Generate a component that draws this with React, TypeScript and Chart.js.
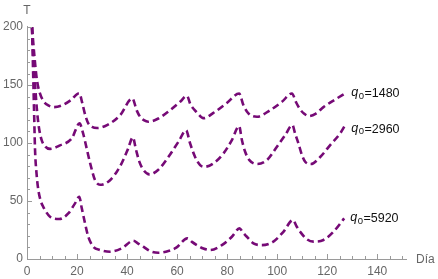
import { useEffect, useRef } from 'react';
import { Chart, registerables } from 'chart.js';

Chart.register(...registerables);

// Series q0 = 1480
const days1 = [2, 3, 4, 5, 6.5, 8.5, 10.8, 14, 17.5, 20.9, 22.1, 23.3, 24.5, 26, 28, 32, 37.2, 42.1, 43.9, 45.2, 46.7, 48.5, 52.5, 57.2, 61.2, 63.9, 65.4, 67.9, 70.5, 74.5, 80, 84.8, 86.5, 88.5, 91.9, 97.2, 101.9, 105.9, 107.6, 109.2, 110.7, 112.6, 115.5, 118.5, 123.2, 127.2];
const temp1 = [200, 174, 154, 144, 136.5, 132.5, 131, 132.5, 137, 143, 134.5, 124, 117, 114, 113, 115.5, 124, 138.5, 128, 122.7, 119.8, 118.4, 121.2, 128.4, 135.6, 140.8, 133, 126.5, 121.5, 126, 134.8, 142.8, 132.8, 125.6, 122.7, 128.4, 135.6, 142.8, 135, 129, 125.5, 123.3, 125.5, 131, 137.6, 142.8];

// Series q0 = 2960
const days2 = [2, 2.6, 3.3, 4, 4.8, 5.8, 7.3, 9.2, 13.2, 17.9, 21, 22.4, 24, 25.2, 27.2, 29.2, 33.2, 37.2, 40.4, 42.3, 43.6, 44.9, 46.5, 48.9, 52.5, 56.5, 60.5, 63.6, 65.2, 67.2, 69.2, 70.8, 74.5, 78.5, 81.9, 84.8, 85.9, 87.2, 88.9, 92.1, 95.9, 99.9, 103.2, 106.1, 107.2, 108.5, 109.9, 111.2, 113.5, 117.2, 121.2, 125.2, 127.2];
const temp2 = [200, 172, 148, 128, 113, 103, 97, 95, 98, 104, 117, 108.6, 94, 83, 68, 64, 68, 80, 95, 105, 94, 84, 77, 73, 77, 88, 101, 111, 99.7, 88, 81, 79.5, 82.5, 91, 102.6, 114.7, 102.6, 92.5, 85.3, 81.9, 85.3, 96.8, 106.9, 115.5, 108, 99.7, 89.7, 83.9, 81.9, 88, 98.3, 108.4, 115.5];

// Series q0 = 5920
const days3 = [2, 2.4, 2.8, 3.2, 3.8, 4.5, 5.5, 6.5, 9.2, 12.9, 16.5, 19.2, 20.9, 21.9, 23.2, 24.5, 26.5, 29.2, 33.2, 37.9, 42.5, 44.3, 46.5, 49.2, 52.5, 55.5, 59.5, 64.1, 65.8, 67.9, 70.5, 73.2, 77.9, 81.9, 84.9, 86.5, 87.9, 90.5, 93.9, 98.5, 102.5, 106.3, 107.8, 109.2, 111.9, 114.5, 118.5, 122.5, 126.8];
const temp3 = [200, 165, 130, 95, 74, 60, 50, 45, 36.5, 34.5, 39.3, 48, 53.7, 43.7, 30.7, 19.2, 10.6, 7.8, 6.3, 9.2, 15.8, 13.5, 10.6, 6.8, 5.4, 6.3, 9.5, 17.8, 15, 12, 9, 7.8, 12, 19.2, 26.4, 22.5, 19.2, 13.5, 12, 15, 23.5, 33.6, 28, 23.5, 17, 15, 16.4, 23.5, 35];

const seriesQ0 = ['1480', '2960', '5920'];
const xTicks = [0, 20, 40, 60, 80, 100, 120, 140];
const yTicks = [0, 50, 100, 150, 200];
const xTitle = 'Día';
const yTitle = 'T';

export default function App() {
  const ref = useRef<HTMLCanvasElement>(null);

  useEffect(() => {
    document.body.style.margin = '0';
    const canvas = ref.current;
    if (!canvas) return;
    const font = '"Liberation Sans", Arial, sans-serif';
    const purple = '#760a76';
    const axisGray = '#9a9a9a';
    const labelGray = '#666666';
    const mk = (d: number[], v: number[]) => d.map((x, i) => ({ x, y: v[i] }));
    const labelOffsets = [0, 4, 0];

    const decor = {
      id: 'decor',
      afterDraw(chart: any) {
        const { ctx, chartArea: a, scales } = chart;
        const xs = scales.x;
        const ys = scales.y;
        ctx.save();
        ctx.strokeStyle = axisGray;
        ctx.lineWidth = 1;
        ctx.beginPath();
        for (let v = 0; v <= 150; v += 5) {
          const px = Math.round(xs.getPixelForValue(v)) + 0.5;
          const len = v % 20 === 0 ? 5 : 3;
          ctx.moveTo(px, a.bottom);
          ctx.lineTo(px, a.bottom - len);
        }
        for (let v = 0; v <= 200; v += 10) {
          const py = Math.round(ys.getPixelForValue(v)) + 0.5;
          const len = v % 50 === 0 ? 5 : 3;
          ctx.moveTo(a.left, py);
          ctx.lineTo(a.left + len, py);
        }
        ctx.stroke();

        // axis titles
        ctx.fillStyle = labelGray;
        ctx.font = `12px ${font}`;
        ctx.textBaseline = 'middle';
        ctx.textAlign = 'left';
        ctx.fillText(xTitle, a.right + 10, a.bottom + 1);
        ctx.textAlign = 'center';
        ctx.fillText(yTitle, a.left, 11);

        // series labels
        ctx.fillStyle = '#111111';
        ctx.textAlign = 'left';
        chart.data.datasets.forEach((_ds: any, i: number) => {
          const meta = chart.getDatasetMeta(i);
          const pt = meta.data[meta.data.length - 1];
          let x = pt.x + 6;
          const y = pt.y + labelOffsets[i];
          ctx.font = `italic 12.5px ${font}`;
          ctx.textBaseline = 'middle';
          ctx.fillText('q', x, y - 1);
          x += ctx.measureText('q').width + 0.5;
          ctx.font = `9.5px ${font}`;
          ctx.fillText('0', x, y + 2.5);
          x += ctx.measureText('0').width + 0.5;
          ctx.font = `12.5px ${font}`;
          ctx.fillText('=' + seriesQ0[i], x, y);
        });
        ctx.restore();
      },
    };

    const dsStyle = {
      borderColor: purple,
      backgroundColor: purple,
      borderWidth: 2.6,
      borderDash: [7, 4],
      pointRadius: 0,
      fill: false,
      cubicInterpolationMode: 'monotone' as const,
    };

    const chart = new Chart(canvas, {
      type: 'line',
      data: {
        datasets: [
          { ...dsStyle, label: 'q0=' + seriesQ0[0], data: mk(days1, temp1) },
          { ...dsStyle, label: 'q0=' + seriesQ0[1], data: mk(days2, temp2) },
          { ...dsStyle, label: 'q0=' + seriesQ0[2], data: mk(days3, temp3) },
        ],
      },
      options: {
        animation: false,
        responsive: false,
        layout: { padding: { top: 26, right: 32, left: 0, bottom: 0 } },
        plugins: { legend: { display: false }, tooltip: { enabled: false } },
        scales: {
          x: {
            type: 'linear',
            min: 0,
            max: 151.5,
            grid: { display: false, drawTicks: false },
            border: { display: true, color: axisGray, width: 1 },
            ticks: { color: labelGray, font: { family: font, size: 12 }, padding: 5, maxRotation: 0 },
            afterBuildTicks: (s: any) => {
              s.ticks = xTicks.map((v) => ({ value: v }));
            },
            afterFit: (s: any) => {
              s.height = 20;
            },
          },
          y: {
            type: 'linear',
            min: 0,
            max: 201,
            grid: { display: false, drawTicks: false },
            border: { display: true, color: axisGray, width: 1 },
            ticks: { color: labelGray, font: { family: font, size: 12 }, padding: 4 },
            afterBuildTicks: (s: any) => {
              s.ticks = yTicks.map((v) => ({ value: v }));
            },
            afterFit: (s: any) => {
              s.width = 27;
            },
          },
        },
      },
      plugins: [decor],
    });

    return () => chart.destroy();
  }, []);

  return <canvas ref={ref} width={438} height={279} style={{ display: 'block' }} />;
}
